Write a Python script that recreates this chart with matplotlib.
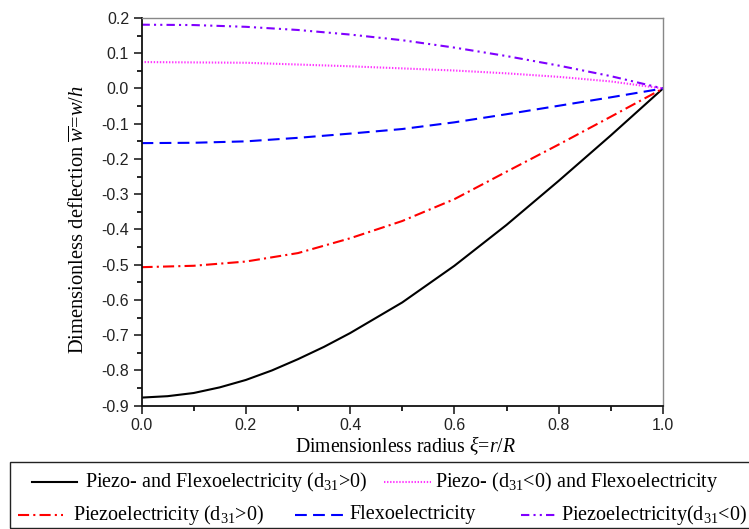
import matplotlib
matplotlib.use("Agg")
import matplotlib.pyplot as plt
from matplotlib.lines import Line2D
from matplotlib.patches import Rectangle
from matplotlib.ticker import MultipleLocator, FormatStrFormatter

plt.rcParams['mathtext.fontset'] = 'custom'
plt.rcParams['mathtext.rm'] = 'Liberation Serif'
plt.rcParams['mathtext.it'] = 'Liberation Serif:italic'
plt.rcParams['mathtext.bf'] = 'Liberation Serif:bold'
plt.rcParams['lines.scale_dashes'] = False

# ---- data ----
xi = [0.0, 0.1, 0.2, 0.3, 0.4, 0.5, 0.6, 0.7, 0.8, 0.9, 1.0]
xi_black = [0.0, 0.05, 0.1, 0.15, 0.2, 0.25, 0.3, 0.35, 0.4, 0.5, 0.6, 0.7, 0.8, 0.9, 1.0]
w_piezo_flexo_pos = [-0.877, -0.873, -0.864, -0.848, -0.827, -0.800, -0.768, -0.733, -0.694,
                     -0.607, -0.503, -0.387, -0.262, -0.133, 0.0]
w_piezo_neg_flexo = [0.075, 0.074, 0.073, 0.068, 0.063, 0.057, 0.051, 0.043, 0.033, 0.020, 0.0]
w_piezo_pos = [-0.507, -0.503, -0.491, -0.467, -0.425, -0.376, -0.314, -0.236, -0.159, -0.080, 0.0]
w_flexo = [-0.155, -0.154, -0.150, -0.140, -0.128, -0.115, -0.096, -0.073, -0.049, -0.025, 0.0]
w_piezo_neg = [0.181, 0.180, 0.175, 0.166, 0.153, 0.137, 0.116, 0.092, 0.065, 0.035, 0.0]

labels = [r'Piezo- and Flexoelectricity (d$_{31}$>0)',
          r'Piezo- (d$_{31}$<0) and Flexoelectricity',
          r'Piezoelectricity (d$_{31}$>0)',
          r'Flexoelectricity',
          r'Piezoelectricity(d$_{31}$<0)']
colors = ['#000000', '#ff33ff', '#ff0000', '#0000ff', '#8000ff']
dash_styles = ['-', (0, (1.0, 1.2)), (0, (8, 3, 1.5, 3)), (0, (8.5, 4.5)), (0, (6, 3, 1.5, 3, 1.5, 3))]

W, H = 749, 529
fig = plt.figure(figsize=(W / 100, H / 100), dpi=100)
ax = fig.add_axes([141.5 / W, 1 - 405.7 / H, (663 - 141.5) / W, (405.7 - 18) / H])

series = [(xi_black, w_piezo_flexo_pos), (xi, w_piezo_neg_flexo), (xi, w_piezo_pos),
          (xi, w_flexo), (xi, w_piezo_neg)]
for (xs, ys), c, ds in zip(series, colors, dash_styles):
    ax.plot(xs, ys, color=c, lw=1.5, linestyle=ds, solid_joinstyle='round')

ax.set_xlim(0, 1.0)
ax.set_ylim(-0.9, 0.2)
ax.xaxis.set_major_locator(MultipleLocator(0.2))
ax.xaxis.set_minor_locator(MultipleLocator(0.1))
ax.yaxis.set_major_locator(MultipleLocator(0.1))
ax.yaxis.set_minor_locator(MultipleLocator(0.05))
ax.xaxis.set_major_formatter(FormatStrFormatter('%.1f'))
ax.yaxis.set_major_formatter(FormatStrFormatter('%.1f'))
ax.tick_params(which='major', direction='out', length=6, width=1.2, pad=3,
               labelsize=11.5, labelfontfamily='Liberation Sans', colors='#222222')
ax.tick_params(axis='x', which='major', pad=2.5)
ax.tick_params(which='minor', direction='out', length=3.5, width=1.2)
ax.tick_params(top=False, right=False, which='both')
for s in ['left', 'bottom']:
    ax.spines[s].set_linewidth(1.3)
    ax.spines[s].set_color('#111111')
for s in ['top', 'right']:
    ax.spines[s].set_linewidth(1.0)
    ax.spines[s].set_color('#888888')

tfont = dict(family='Liberation Serif', size=14.5)
fig.text(405 / W, 1 - 446 / H, r'Dimensionless radius $\xi$=$r/R$', ha='center', va='center',
         family='Liberation Serif', size=14.2)
fig.text(79 / W, 1 - 220 / H, r'Dimensionless deflection $\overline{w}$=$w/h$', ha='center', va='center',
         rotation=90, family='Liberation Serif', size=14.8)

# legend box
fig.add_artist(Rectangle((10 / W, 1 - 528 / H), (760 - 10) / W, (528 - 462) / H,
                         transform=fig.transFigure, fill=False, edgecolor='#222222', lw=1.0))
# legend entries: (handle x0, x1, text x, y)
pos = [(32, 77, 85, 482), (384, 431, 435, 482), (18, 63, 73, 515), (295, 345, 349, 515),
       (521, 556, 561, 515)]
for lab, c, ds, (x0, x1, tx, y) in zip(labels, colors, dash_styles, pos):
    fig.add_artist(Line2D([x0 / W, x1 / W], [1 - y / H, 1 - y / H], transform=fig.transFigure,
                          color=c, lw=1.5, linestyle=ds))
    fig.text(tx / W, 1 - y / H, lab, ha='left', va='center', **tfont)

fig.savefig('out.png', dpi=100)
